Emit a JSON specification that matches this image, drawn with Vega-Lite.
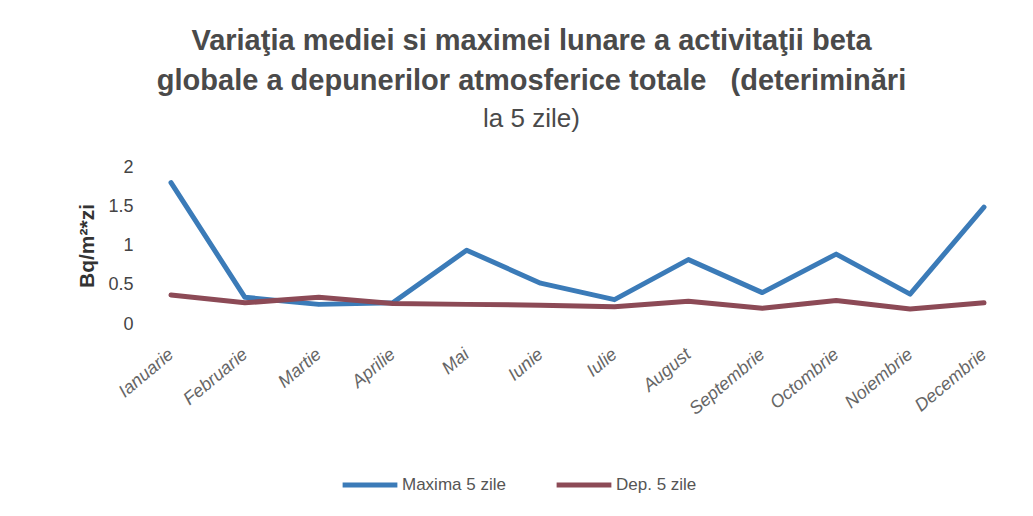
{
  "$schema": "https://vega.github.io/schema/vega-lite/v6.json",
  "width": 813,
  "height": 157,
  "autosize": "none",
  "padding": {"left": 171, "top": 167, "right": 49, "bottom": 192},
  "background": "white",
  "config": {"view": {"stroke": null}},
  "title": {
    "text": ["Variaţia mediei si maximei lunare a activitaţii beta", "globale a depunerilor atmosferice totale\u00a0\u00a0\u00a0(deteriminări"],
    "subtitle": "la 5 zile)",
    "anchor": "middle",
    "dx": -46,
    "offset": 26,
    "font": "Liberation Sans",
    "fontSize": 29,
    "fontWeight": "bold",
    "color": "#4a4a4a",
    "lineHeight": 40,
    "subtitleFont": "Liberation Sans",
    "subtitleFontSize": 26,
    "subtitleColor": "#4a4a4a",
    "subtitlePadding": 10
  },
  "data": {
    "values": [
      {"month": "Ianuarie", "series": "Maxima 5 zile", "value": 1.80},
      {"month": "Februarie", "series": "Maxima 5 zile", "value": 0.34},
      {"month": "Martie", "series": "Maxima 5 zile", "value": 0.25},
      {"month": "Aprilie", "series": "Maxima 5 zile", "value": 0.27},
      {"month": "Mai", "series": "Maxima 5 zile", "value": 0.94},
      {"month": "Iunie", "series": "Maxima 5 zile", "value": 0.52},
      {"month": "Iulie", "series": "Maxima 5 zile", "value": 0.31},
      {"month": "August", "series": "Maxima 5 zile", "value": 0.82},
      {"month": "Septembrie", "series": "Maxima 5 zile", "value": 0.40},
      {"month": "Octombrie", "series": "Maxima 5 zile", "value": 0.89},
      {"month": "Noiembrie", "series": "Maxima 5 zile", "value": 0.38},
      {"month": "Decembrie", "series": "Maxima 5 zile", "value": 1.49},
      {"month": "Ianuarie", "series": "Dep. 5 zile", "value": 0.37},
      {"month": "Februarie", "series": "Dep. 5 zile", "value": 0.27},
      {"month": "Martie", "series": "Dep. 5 zile", "value": 0.34},
      {"month": "Aprilie", "series": "Dep. 5 zile", "value": 0.26},
      {"month": "Mai", "series": "Dep. 5 zile", "value": 0.25},
      {"month": "Iunie", "series": "Dep. 5 zile", "value": 0.24},
      {"month": "Iulie", "series": "Dep. 5 zile", "value": 0.22},
      {"month": "August", "series": "Dep. 5 zile", "value": 0.29},
      {"month": "Septembrie", "series": "Dep. 5 zile", "value": 0.20},
      {"month": "Octombrie", "series": "Dep. 5 zile", "value": 0.30},
      {"month": "Noiembrie", "series": "Dep. 5 zile", "value": 0.19},
      {"month": "Decembrie", "series": "Dep. 5 zile", "value": 0.27}
    ]
  },
  "mark": {"type": "line", "strokeWidth": 5, "strokeJoin": "round", "strokeCap": "round"},
  "encoding": {
    "x": {
      "field": "month",
      "type": "nominal",
      "sort": ["Ianuarie", "Februarie", "Martie", "Aprilie", "Mai", "Iunie", "Iulie", "August", "Septembrie", "Octombrie", "Noiembrie", "Decembrie"],
      "scale": {"type": "point", "padding": 0},
      "axis": {
        "title": null,
        "domain": false,
        "ticks": false,
        "labelAngle": -40,
        "labelAlign": "right",
        "labelBaseline": "middle",
        "labelPadding": 28,
        "labelFont": "Liberation Sans",
        "labelFontStyle": "italic",
        "labelFontSize": 18,
        "labelColor": "#666666"
      }
    },
    "y": {
      "field": "value",
      "type": "quantitative",
      "scale": {"domain": [0, 2], "nice": false},
      "axis": {
        "values": [0, 0.5, 1, 1.5, 2],
        "labelExpr": "datum.value + ''",
        "grid": false,
        "domain": false,
        "ticks": false,
        "labelPadding": 38,
        "labelFont": "Liberation Sans",
        "labelFontSize": 18,
        "labelColor": "#444444",
        "title": "Bq/m²*zi",
        "titleFont": "Liberation Sans",
        "titleFontSize": 21,
        "titleFontWeight": "bold",
        "titleColor": "#333333",
        "titlePadding": 10
      }
    },
    "color": {
      "field": "series",
      "type": "nominal",
      "sort": ["Maxima 5 zile", "Dep. 5 zile"],
      "scale": {"domain": ["Maxima 5 zile", "Dep. 5 zile"], "range": ["#3b7bb8", "#8c4a56"]},
      "legend": {
        "title": null,
        "orient": "none",
        "direction": "horizontal",
        "legendX": 169,
        "legendY": 288,
        "symbolType": "stroke",
        "symbolSize": 3000,
        "symbolStrokeWidth": 5,
        "labelFont": "Liberation Sans",
        "labelFontSize": 17,
        "labelColor": "#555555",
        "labelOffset": 2,
        "columnPadding": 40
      }
    }
  }
}
